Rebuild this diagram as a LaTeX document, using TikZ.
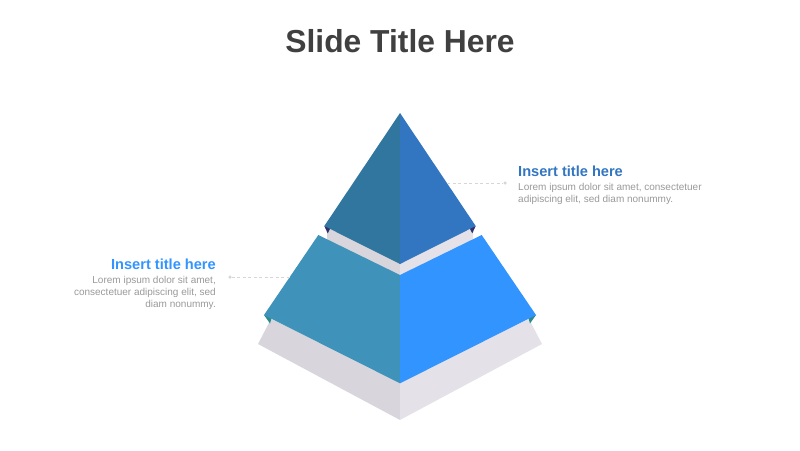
\documentclass[tikz,border=0pt]{standalone}
\usepackage{fontspec}
\setmainfont{Liberation Sans}
\definecolor{topleft}{HTML}{31769E}
\definecolor{topright}{HTML}{3276C2}
\definecolor{midleft}{HTML}{3F93BA}
\definecolor{midright}{HTML}{3194FF}
\definecolor{greyleft}{HTML}{D8D6DC}
\definecolor{greyright}{HTML}{E4E2E8}
\definecolor{navytip}{HTML}{2F2F6B}
\definecolor{tealtip}{HTML}{2E8A8C}
\definecolor{titlegrey}{HTML}{404040}
\definecolor{bodygrey}{HTML}{999999}
\definecolor{leadgrey}{HTML}{D6D6D6}
\tikzset{
	face/.style={draw=none},
	lead/.style={draw=leadgrey, line width=0.6pt, dash pattern=on 3pt off 2.5pt},
	leaddot/.style={circle, fill=leadgrey, inner sep=0pt, minimum size=3.5pt},
	heading/.style={inner sep=0pt, font=\fontsize{14.6}{17}\selectfont\bfseries},
	bodyline/.style={inner sep=0pt, text=bodygrey, font=\fontsize{10}{12}\selectfont}
}
\begin{document}
\begin{tikzpicture}[x=1pt,y=-1pt]
	\useasboundingbox (0,0) rectangle (800,450);

	% заголовок
	\node [anchor=base, text=titlegrey, inner sep=0pt, font=\fontsize{31.8}{36}\selectfont\bfseries] (title) at (400,52) {Slide Title Here};

	% нижняя плита
	\fill [face, greyleft] (271,319) -- (258,344) -- (400,420) -- (400,380) -- cycle;
	\fill [face, greyright] (529,319) -- (542,344) -- (400,420) -- (400,380) -- cycle;

	% серая полоса под вершиной
	\fill [face, greyleft] (327,226) -- (400,262) -- (400,276) -- (327,240) -- cycle;
	\fill [face, greyright] (473,226) -- (400,262) -- (400,276) -- (473,240) -- cycle;

	% средний ярус
	\fill [tealtip] (264,315) -- (272,316.5) -- (270,323.5) -- cycle;
	\fill [tealtip] (536,315) -- (528,316.5) -- (530,323.5) -- cycle;
	\fill [face, midleft] (318.3,235) -- (400,275) -- (400,383.3) -- (264,315) -- cycle;
	\fill [face, midright] (481.7,235) -- (400,275) -- (400,383.3) -- (536,315) -- cycle;

	% вершина
	\fill [navytip] (324.3,226) -- (330.7,227.7) -- (327.7,233.3) -- cycle;
	\fill [navytip] (475.7,226) -- (469.3,227.7) -- (472.3,233.3) -- cycle;
	\fill [face, topleft] (400,113) -- (324.3,226) -- (400,264) -- cycle;
	\fill [face, topright] (400,113) -- (475.7,226) -- (400,264) -- cycle;

	% подпись справа
	\coordinate (rstart) at (447,183);
	\node [leaddot] (rdot) at (505,183) {};
	\draw [lead] (rstart) -- (rdot);
	\node [heading, text=topright, anchor=base west] (rhead) at (518,176.5) {Insert title here};
	\node [bodyline, anchor=base west] (rbody1) at (518,190) {Lorem ipsum dolor sit amet, consectetuer};
	\node [bodyline, anchor=base west] (rbody2) at (518,202) {adipiscing elit, sed diam nonummy.};

	% подпись слева
	\node [leaddot] (ldot) at (230,277) {};
	\coordinate (lstart) at (290,277);
	\draw [lead] (ldot) -- (lstart);
	\node [heading, text=midright, anchor=base east] (lhead) at (216,269.5) {Insert title here};
	\node [bodyline, anchor=base east] (lbody1) at (216,283) {Lorem ipsum dolor sit amet,};
	\node [bodyline, anchor=base east] (lbody2) at (216,295) {consectetuer adipiscing elit, sed};
	\node [bodyline, anchor=base east] (lbody3) at (216,307) {diam nonummy.};
\end{tikzpicture}
\end{document}
